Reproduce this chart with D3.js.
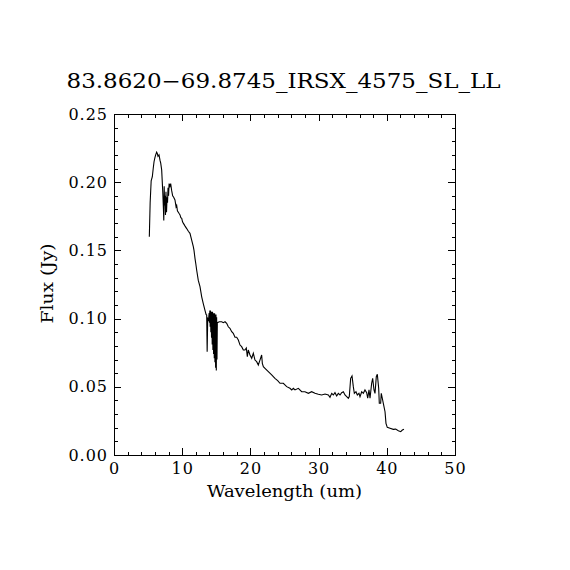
<!DOCTYPE html>
<meta charset="utf-8">
<script src="https://d3js.org/d3.v7.min.js"></script>
<style>
  body { margin: 0; background: #fff; }
  text { font-family: "DejaVu Serif", serif; fill: #000; }
</style>
<div id="my_dataviz"></div>
<script>

    // spectrum
    var wavelength = [
        5.18, 5.30, 5.45, 5.62, 5.75, 5.87, 6.00, 6.11, 6.25, 6.35, 6.45, 6.60, 6.75, 6.85, 6.99,
        7.14, 7.25, 7.30, 7.36, 7.42, 7.48, 7.55, 7.62, 7.70, 7.78, 7.85, 7.92, 8.00, 8.08, 8.20,
        8.31, 8.45, 8.60, 8.75, 8.94, 9.10, 9.19, 9.30, 9.43, 9.55, 9.68, 9.80, 9.93, 10.05, 10.16,
        10.40, 10.66, 10.90, 11.14, 11.39, 11.63, 11.73, 11.88, 12.00, 12.12, 12.36, 12.61, 12.86,
        13.09, 13.34, 13.50, 13.59, 13.66, 13.74, 13.85,
        13.95, 14.00, 14.05, 14.10, 14.15, 14.20, 14.25, 14.30, 14.35, 14.40, 14.45, 14.50, 14.55,
        14.60, 14.65, 14.70, 14.75, 14.80, 14.85, 14.90, 14.95, 15.00, 15.05, 15.10, 15.15,
        15.44, 15.79, 16.03, 16.28, 16.52, 16.76, 17.00, 17.26, 17.49, 17.74, 17.99, 18.23, 18.48,
        18.72, 18.96, 19.20, 19.40, 19.55, 19.69, 19.94, 20.19, 20.43, 20.67, 20.92, 21.16, 21.40,
        21.65, 21.75, 21.90, 22.14, 22.63, 23.12, 23.60, 24.00, 24.34, 24.83, 25.32, 25.80, 26.06,
        26.30, 26.54, 27.03, 27.52, 28.00, 28.50, 28.98, 29.47, 29.96, 30.45, 30.94, 31.43, 31.67,
        31.92, 32.16, 32.40, 32.65, 32.89, 33.14, 33.38, 33.63, 33.87, 34.12, 34.36, 34.50, 34.70,
        34.90, 35.09, 35.24, 35.48, 35.68, 35.92, 36.07, 36.32, 36.56, 36.80, 37.05, 37.20, 37.39,
        37.54, 37.78, 37.93, 38.12, 38.27, 38.46, 38.61, 38.81, 38.90, 39.10, 39.19, 39.34, 39.49,
        39.74, 39.88, 40.07, 40.47, 40.95, 41.30, 41.69, 42.04, 42.28, 42.52
    ];
    var flux = [
        0.160, 0.185, 0.201, 0.204, 0.210, 0.215, 0.218, 0.220, 0.222, 0.221, 0.219, 0.220, 0.216, 0.214, 0.209,
        0.194, 0.180, 0.172, 0.197, 0.183, 0.190, 0.176, 0.193, 0.178, 0.189, 0.185, 0.196, 0.190, 0.199, 0.197,
        0.199, 0.194, 0.190, 0.189, 0.187, 0.182, 0.183, 0.179, 0.178, 0.177, 0.176, 0.174, 0.1735, 0.171, 0.170,
        0.168, 0.166, 0.164, 0.1625, 0.1576, 0.1527, 0.150, 0.144, 0.140, 0.1356, 0.128, 0.1234, 0.116,
        0.111, 0.106, 0.103, 0.1026, 0.0757, 0.100, 0.099,
        0.104, 0.097, 0.106, 0.094, 0.106, 0.090, 0.105, 0.086, 0.105, 0.081, 0.105, 0.077, 0.104,
        0.074, 0.104, 0.071, 0.104, 0.068, 0.103, 0.064, 0.103, 0.062, 0.101, 0.070, 0.097,
        0.0977, 0.0977, 0.097, 0.0977, 0.0965, 0.094, 0.0929, 0.0904, 0.0892, 0.0863, 0.0863, 0.0843, 0.0806,
        0.0794, 0.077, 0.077, 0.0785, 0.0721, 0.077, 0.0733, 0.0709, 0.0746, 0.0696, 0.0684, 0.066, 0.0696,
        0.0733, 0.0672, 0.0647, 0.0635, 0.0611, 0.0587, 0.0562, 0.0545, 0.0526, 0.0526, 0.0501, 0.0489, 0.0477,
        0.0489, 0.0477, 0.0489, 0.0464, 0.0464, 0.0452, 0.0464, 0.0452, 0.0445, 0.044, 0.0447, 0.044, 0.0423,
        0.0452, 0.044, 0.0457, 0.0433, 0.0452, 0.044, 0.0457, 0.0464, 0.044, 0.0428, 0.0416, 0.0428, 0.0562,
        0.0579, 0.0501, 0.0452, 0.0464, 0.044, 0.0452, 0.0428, 0.0464, 0.0452, 0.0477, 0.0457, 0.0416, 0.0477,
        0.0416, 0.0526, 0.0562, 0.0477, 0.0452, 0.0574, 0.0592, 0.0489, 0.0379, 0.0379, 0.0452, 0.0416, 0.0379,
        0.0317, 0.0232, 0.0203, 0.0196, 0.0188, 0.019, 0.0178, 0.0171, 0.0183, 0.0188
    ];

    var xTicks = [0, 10, 20, 30, 40, 50];
    var yTicks = [0, 0.05, 0.10, 0.15, 0.20, 0.25];
    var xLabels = ["0", "10", "20", "30", "40", "50"];
    var yLabels = ["0.00", "0.05", "0.10", "0.15", "0.20", "0.25"];
    var title = "83.8620\u221269.8745_IRSX_4575_SL_LL";

    var data = wavelength.map(function (w, i) { return { w: w, f: flux[i] }; });

    var margin = { top: 114, right: 115, bottom: 115, left: 114 },
        width = 570 - margin.left - margin.right,
        height = 570 - margin.top - margin.bottom;

    var svg = d3.select("#my_dataviz")
        .append("svg")
        .attr("width", 570)
        .attr("height", 570)
        .append("g")
        .attr("transform", "translate(" + margin.left + "," + margin.top + ")");

    var x = d3.scaleLinear().domain([0, 50]).range([0, width]);
    var y = d3.scaleLinear().domain([0, 0.25]).range([height, 0]);

    var major = 7, minor = 3.5;
    var xMinor = d3.range(0, 50.001, 2);
    var yMinor = d3.range(0, 0.2501, 0.01);

    // IDL style box: ticks point inward on all four sides
    function styleAxis(g) {
        g.select(".domain").remove();
        g.selectAll("line").attr("stroke", "#000").attr("shape-rendering", "crispEdges");
    }

    svg.append("g").attr("transform", "translate(0," + height + ")")
        .call(d3.axisBottom(x).tickValues(xMinor).tickSize(-minor).tickFormat(""))
        .call(styleAxis);
    svg.append("g").attr("transform", "translate(0," + height + ")")
        .call(d3.axisBottom(x).tickValues(xTicks).tickSize(-major).tickPadding(8)
            .tickFormat(function (d, i) { return xLabels[i]; }))
        .call(styleAxis);
    svg.append("g")
        .call(d3.axisTop(x).tickValues(xMinor).tickSize(-minor).tickFormat(""))
        .call(styleAxis);
    svg.append("g")
        .call(d3.axisTop(x).tickValues(xTicks).tickSize(-major).tickFormat(""))
        .call(styleAxis);

    svg.append("g")
        .call(d3.axisLeft(y).tickValues(yMinor).tickSize(-minor).tickFormat(""))
        .call(styleAxis);
    svg.append("g")
        .call(d3.axisLeft(y).tickValues(yTicks).tickSize(-major).tickPadding(6)
            .tickFormat(function (d, i) { return yLabels[i]; }))
        .call(styleAxis);
    svg.append("g").attr("transform", "translate(" + width + ",0)")
        .call(d3.axisRight(y).tickValues(yMinor).tickSize(-minor).tickFormat(""))
        .call(styleAxis);
    svg.append("g").attr("transform", "translate(" + width + ",0)")
        .call(d3.axisRight(y).tickValues(yTicks).tickSize(-major).tickFormat(""))
        .call(styleAxis);

    svg.selectAll(".tick text")
        .attr("font-family", "DejaVu Serif")
        .attr("font-size", 16)
        .attr("letter-spacing", 1)
        .attr("fill", "#000");

    // frame
    svg.append("rect")
        .attr("width", width).attr("height", height)
        .attr("fill", "none").attr("stroke", "#000")
        .attr("shape-rendering", "crispEdges");

    // spectrum
    svg.append("path")
        .datum(data)
        .attr("fill", "none")
        .attr("stroke", "#000")
        .attr("stroke-width", 1.1)
        .attr("d", d3.line()
            .x(function (d) { return x(d.w); })
            .y(function (d) { return y(d.f); })
        );

    svg.append("text")
        .attr("x", width / 2)
        .attr("y", height + 42)
        .attr("text-anchor", "middle")
        .attr("font-size", 16)
        .attr("textLength", 155)
        .attr("lengthAdjust", "spacingAndGlyphs")
        .text("Wavelength (um)");

    svg.append("text")
        .attr("transform", "rotate(-90)")
        .attr("x", -height / 2 + 1)
        .attr("y", -61)
        .attr("text-anchor", "middle")
        .attr("font-size", 16)
        .attr("textLength", 80)
        .attr("lengthAdjust", "spacingAndGlyphs")
        .text("Flux (Jy)");

    svg.append("text")
        .attr("x", width / 2 - 1)
        .attr("y", -26)
        .attr("text-anchor", "middle")
        .attr("font-size", 20)
        .attr("textLength", 434)
        .attr("lengthAdjust", "spacingAndGlyphs")
        .text(title);
</script>
